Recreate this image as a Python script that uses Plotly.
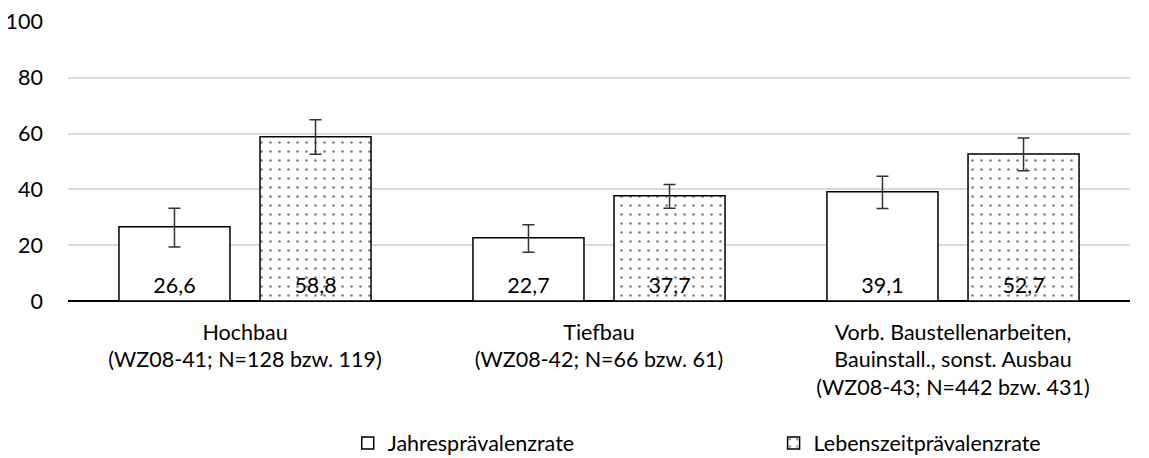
import plotly.graph_objects as go

categories = [
    "Hochbau<br>(WZ08-41; N=128 bzw. 119)",
    "Tiefbau<br>(WZ08-42; N=66 bzw. 61)",
    "Vorb. Baustellenarbeiten,<br>Bauinstall., sonst. Ausbau<br>(WZ08-43; N=442 bzw. 431)",
]
jahres = [26.6, 22.7, 39.1]
jahres_plus = [6.6, 4.6, 5.6]
jahres_minus = [7.3, 5.2, 6.0]
lebens = [58.8, 37.7, 52.7]
lebens_plus = [6.1, 4.0, 5.7]
lebens_minus = [6.2, 4.5, 6.0]
y_ticks = [0, 20, 40, 60, 80, 100]

FONT = "Lato"
FS = 21.5
def fmt(v):
    return f"{v:.1f}".replace(".", ",")

fig = go.Figure()
fig.add_trace(go.Bar(
    name="Jahresprävalenzrate", legend="legend", showlegend=True,
    x=categories, y=jahres,
    marker=dict(color="white", line=dict(color="black", width=1.5)),
    error_y=dict(type="data", array=jahres_plus, arrayminus=jahres_minus,
                 color="#333333", thickness=1.5, width=6),
    text=[fmt(v) for v in jahres], textposition="inside", insidetextanchor="start",
    textfont=dict(family=FONT, size=FS, color="black"), textangle=0,
))
fig.add_trace(go.Bar(
    name="Lebenszeitprävalenzrate", legend="legend2", showlegend=True,
    x=categories, y=lebens,
    marker=dict(color="white", line=dict(color="black", width=1.5),
                pattern=dict(shape=".", fgcolor="black", bgcolor="white",
                             size=9, solidity=0.07, fillmode="overlay")),
    error_y=dict(type="data", array=lebens_plus, arrayminus=lebens_minus,
                 color="#333333", thickness=1.5, width=6),
    text=[fmt(v) for v in lebens], textposition="inside", insidetextanchor="start",
    textfont=dict(family=FONT, size=FS, color="black"), textangle=0,
))

legend_common = dict(orientation="h", yanchor="middle", xanchor="left", y=-0.507,
                     font=dict(family=FONT, size=FS, color="black"),
                     bgcolor="rgba(0,0,0,0)", itemwidth=30)
fig.update_layout(
    width=1141, height=450, showlegend=True,
    margin=dict(l=60, r=19, t=13, b=157, autoexpand=False),
    paper_bgcolor="white", plot_bgcolor="white",
    font=dict(family=FONT, size=FS, color="black"),
    barmode="group", bargap=0.203, bargroupgap=0.213,
    legend=dict(x=0.2634, **legend_common),
    legend2=dict(x=0.6644, **legend_common),
)
fig.update_yaxes(range=[0, 100.3], tickvals=y_ticks, showgrid=True, gridcolor="#d9d9d9",
                 gridwidth=1.5, zeroline=True, zerolinecolor="black", zerolinewidth=1.5,
                 ticklabelstandoff=24, ticklabeloverflow="allow",
                 tickfont=dict(family=FONT, size=FS), automargin=False)
fig.update_xaxes(showgrid=False, tickfont=dict(family=FONT, size=FS), ticks="",
                 ticklabelstandoff=16, ticklabeloverflow="allow", automargin=False)

fig.write_html("out.html")
